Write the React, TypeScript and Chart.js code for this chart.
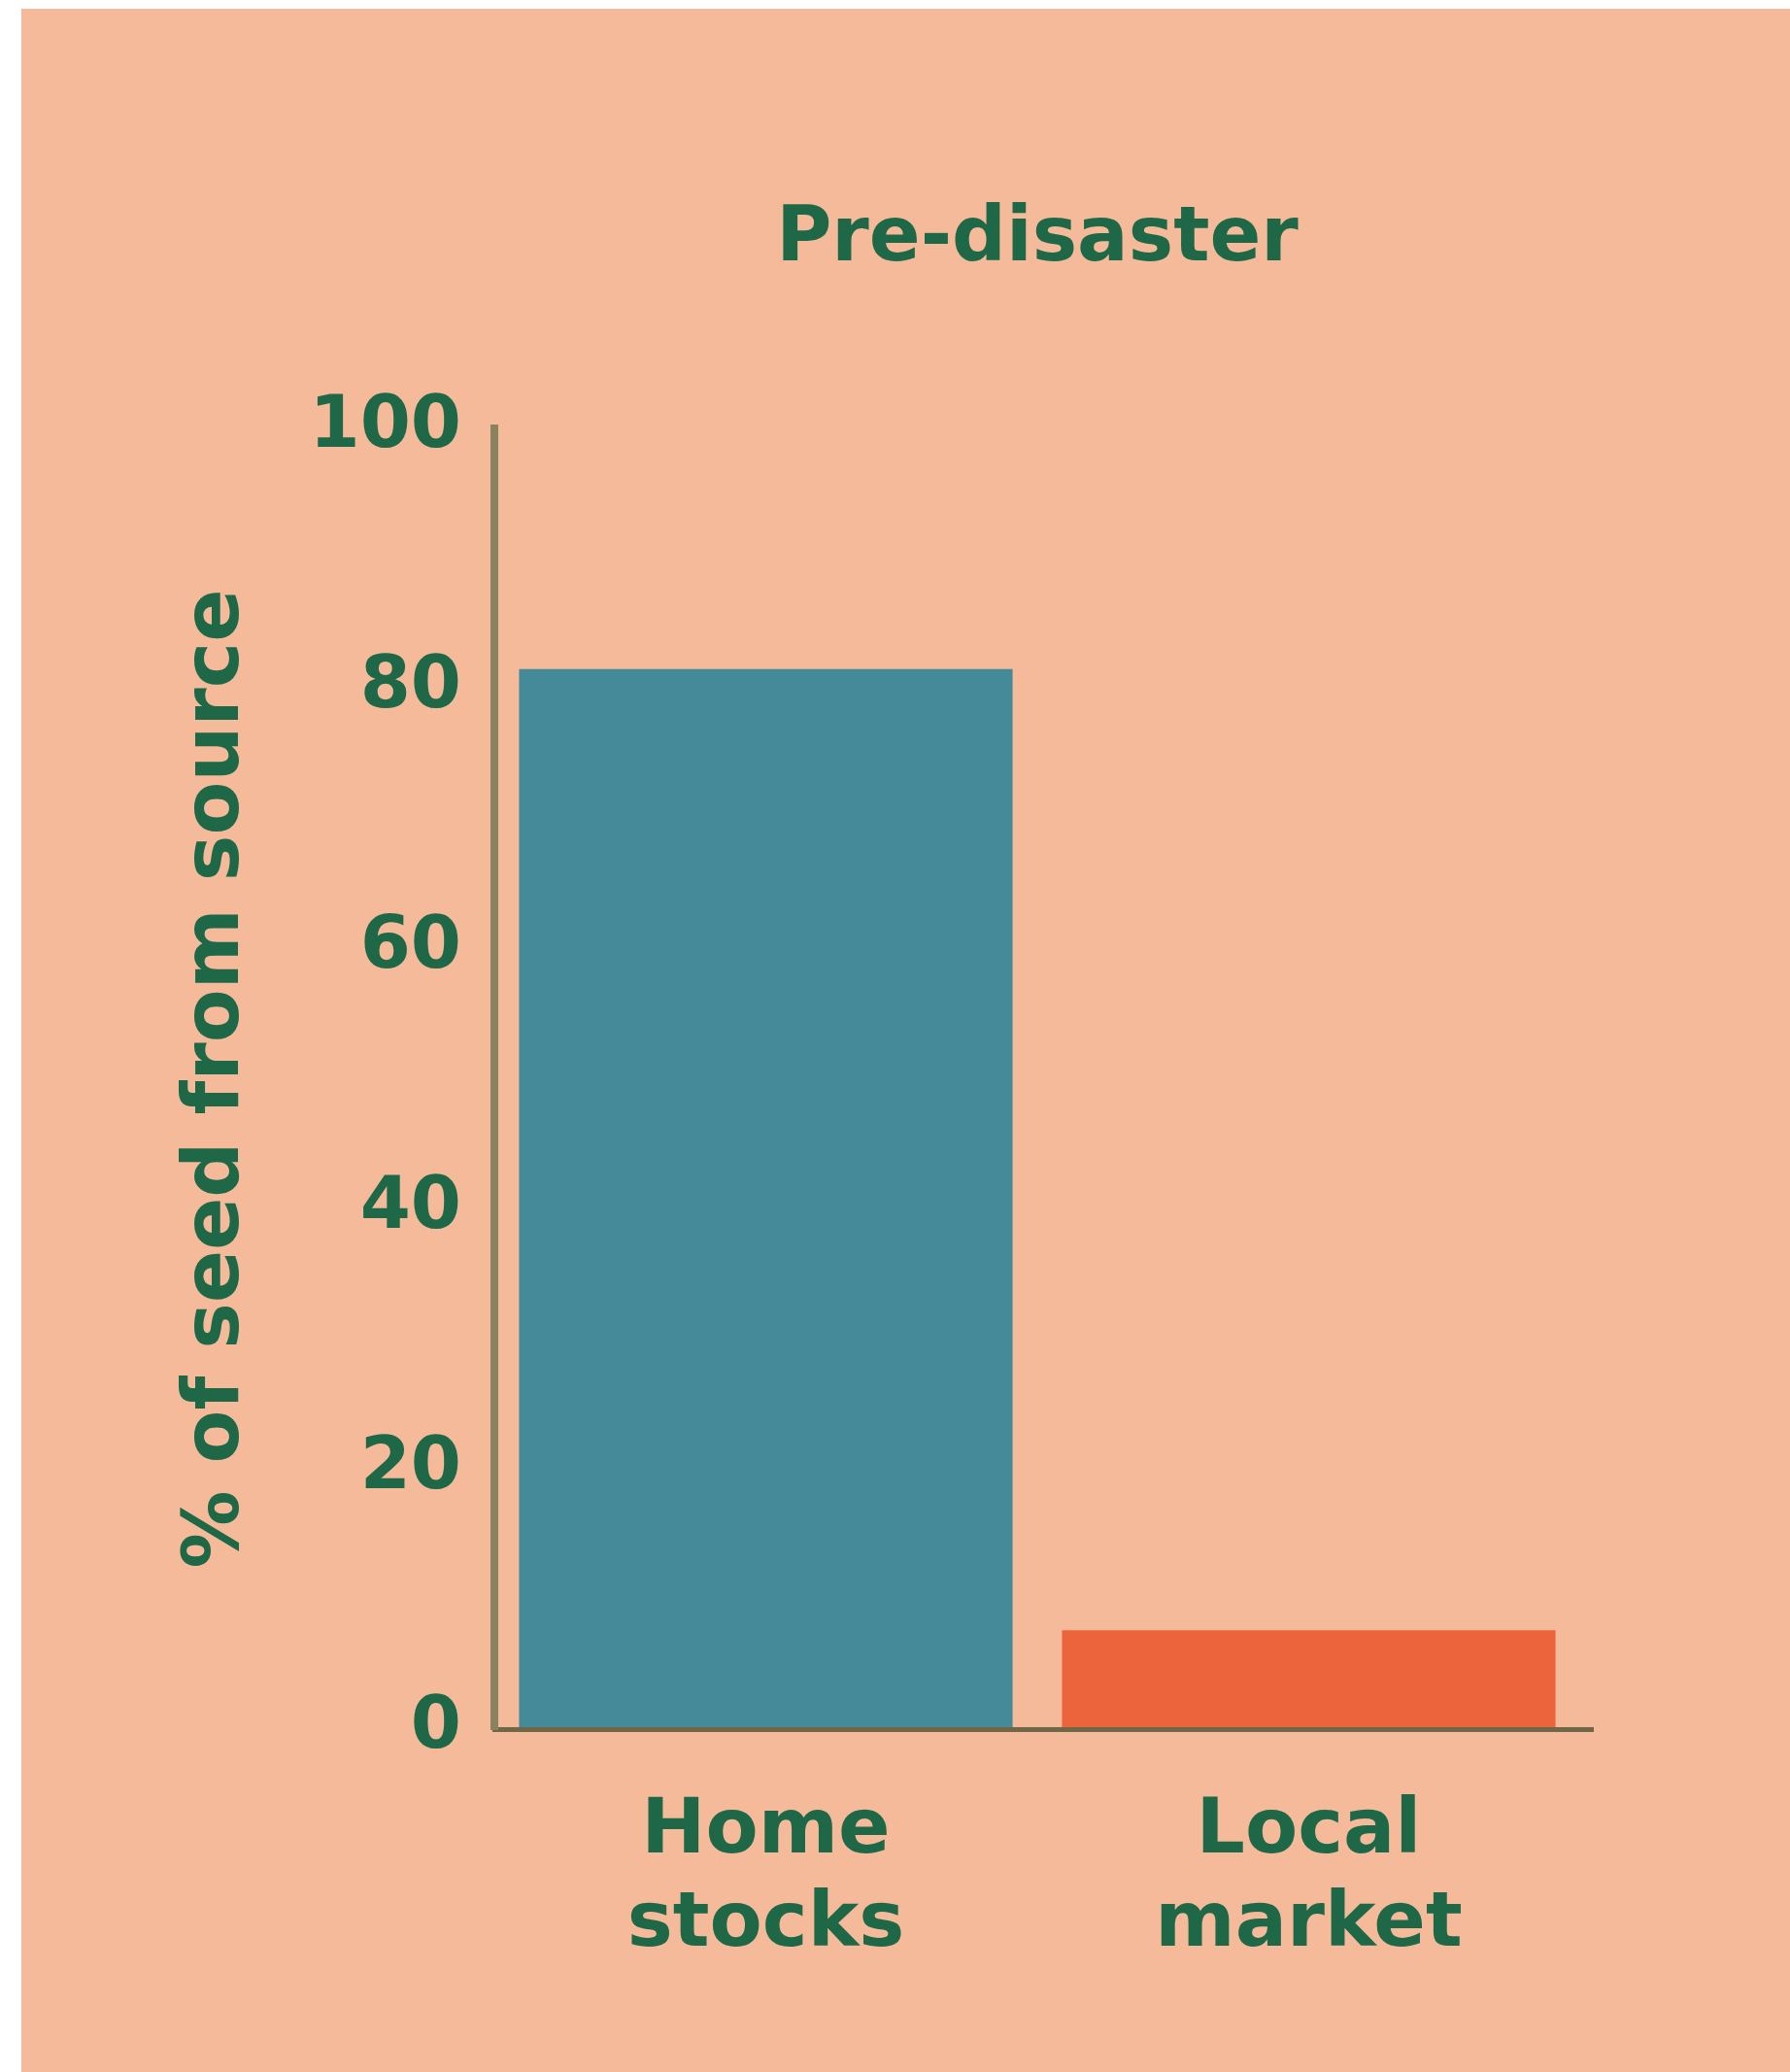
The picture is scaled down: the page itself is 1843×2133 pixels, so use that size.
import React, { useEffect, useRef } from "react";
import { Chart, registerables } from "chart.js";

Chart.register(...registerables);

const TITLE = "Pre-disaster";
const Y_TITLE = "% of seed from source";
const CATEGORIES = [["Home", "stocks"], ["Local", "market"]];
const VALUES = [81.5, 7.6];
const BAR_COLORS = ["#458A99", "#EC643B"];
const Y_MIN = 0;
const Y_MAX = 100;
const Y_STEP = 20;

const BG = "#F4BA99";
const TEXT = "#1E6848";
const FONT = "'DejaVu Sans', sans-serif";

export default function App() {
  const ref = useRef<HTMLCanvasElement>(null);

  useEffect(() => {
    const titlePlugin = {
      id: "centeredTitle",
      afterDraw(chart: any) {
        const { ctx, chartArea } = chart;
        ctx.save();
        ctx.font = `bold 78px ${FONT}`;
        ctx.fillStyle = TEXT;
        ctx.textAlign = "center";
        ctx.textBaseline = "alphabetic";
        ctx.fillText(TITLE, (chartArea.left + chartArea.right) / 2, 259);
        ctx.restore();
      },
    };

    const chart = new Chart(ref.current as HTMLCanvasElement, {
      type: "bar",
      data: {
        labels: CATEGORIES,
        datasets: [
          {
            data: VALUES,
            backgroundColor: BAR_COLORS,
            borderWidth: 0,
            barPercentage: 0.909,
            categoryPercentage: 1,
          },
        ],
      },
      options: {
        animation: false,
        responsive: false,
        layout: { padding: { left: 0, top: 432, right: 216, bottom: 53 } },
        plugins: {
          legend: { display: false },
          tooltip: { enabled: false },
          title: { display: false },
        },
        scales: {
          x: {
            grid: { display: false, drawTicks: false, lineWidth: 28 },
            border: { display: true, color: "#6F6748", width: 5, z: 1 },
            ticks: {
              color: TEXT,
              font: { family: FONT, size: 79, weight: "bold", lineHeight: 1.22 },
              padding: 58,
              maxRotation: 0,
              autoSkip: false,
            },
            afterFit: (s: any) => {
              s.height = 300;
            },
          },
          y: {
            min: Y_MIN,
            max: Y_MAX,
            grid: { display: false, drawTicks: false },
            border: { display: true, color: "#8A8362", width: 8, z: 1 },
            ticks: {
              stepSize: Y_STEP,
              color: TEXT,
              font: { family: FONT, size: 75, weight: "bold" },
              padding: 34,
            },
            title: {
              display: true,
              text: Y_TITLE,
              color: TEXT,
              font: { family: FONT, size: 80, weight: "bold", lineHeight: 1.2 },
              padding: { top: 154, bottom: 0 },
            },
            afterFit: (s: any) => {
              s.width = 487;
            },
          },
        },
      },
      plugins: [titlePlugin],
    } as any);

    return () => chart.destroy();
  }, []);

  return (
    <div
      style={{
        position: "absolute",
        left: 22,
        top: 9,
        width: 1821,
        height: 2124,
        background: BG,
      }}
    >
      <canvas ref={ref} width={1821} height={2124} style={{ display: "block" }} />
    </div>
  );
}
